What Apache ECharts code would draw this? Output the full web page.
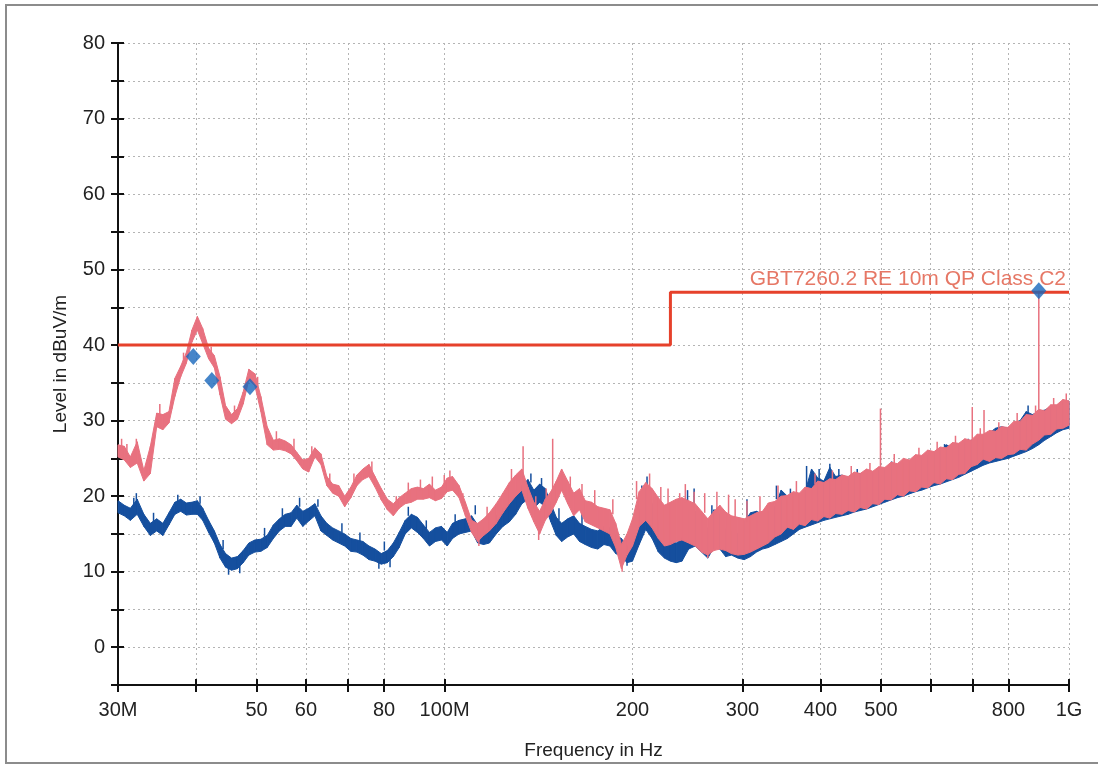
<!DOCTYPE html>
<html>
<head>
<meta charset="utf-8">
<title>Radiated emission scan</title>
<script src="https://cdn.jsdelivr.net/npm/echarts@6/dist/echarts.min.js"></script>
<style>
  html, body { margin: 0; padding: 0; background: #ffffff; }
  #chart { width: 1098px; height: 765px; }
</style>
</head>
<body>
<div id="chart"></div>
<script>
// Scan frequencies (MHz) shared by both polarisation traces
const freqMHz = [
  30, 30.7, 31.4, 32.2, 33, 33.8, 34.6, 35.4, 36.2, 37,
  37.8, 38.6, 39.4, 40.2, 41, 41.9, 42.8, 43.7, 44.6, 45.6,
  46.6, 47.6, 48.6, 49.7, 50.8, 52, 53.2, 54.4, 55.6, 56.8,
  58, 59.3, 60.6, 62, 63.4, 64.8, 66.2, 67.7, 69.2, 70.8,
  72.4, 74, 75.7, 77.4, 79.2, 81, 82.8, 84.6, 86.5, 88.5,
  90.5, 92.5, 94.6, 96.7, 98.9, 101, 103, 105.5, 108, 110.5,
  113, 115.5, 118, 121, 124, 127, 130, 133, 136, 139,
  142, 145, 148, 151, 154, 157.5, 161, 164.5, 168, 172,
  176, 180, 184, 188, 192, 196, 200, 205, 210, 215,
  220, 225, 230, 235, 240, 246, 252, 258, 264, 270,
  276, 282, 288, 295, 302, 309, 316, 323, 330, 338,
  346, 354, 362, 370, 378, 387, 396, 405, 414, 423,
  433, 443, 453, 463, 474, 485, 496, 507, 519, 531,
  543, 555, 568, 581, 594, 608, 622, 636, 651, 666,
  681, 697, 713, 729, 746, 763, 780, 798, 816, 835,
  854, 874, 894, 914, 935, 956, 978, 1000
];

// Horizontal trace: lower / upper edge of the noise band (dBuV/m)
const horLow = [
  25.2, 24.8, 23.8, 24.4, 22.0, 23.0, 29.2, 28.8, 29.7, 33.2,
  35.8, 37.6, 40.4, 42.0, 40.2, 38.2, 37.0, 33.4, 30.2, 29.6,
  30.2, 32.2, 35.4, 34.6, 31.2, 26.8, 26.1, 26.2, 26.0, 25.6,
  24.7, 23.6, 23.2, 25.2, 24.2, 21.4, 20.4, 20.0, 18.6, 19.8,
  21.4, 22.2, 22.6, 21.2, 19.5, 18.2, 17.4, 18.4, 19.0, 19.2,
  19.6, 19.6, 19.8, 19.4, 19.7, 20.6, 20.8, 19.8, 17.4, 15.2,
  14.0, 14.8, 15.4, 16.4, 17.8, 19.0, 20.0, 20.8, 18.4, 16.6,
  15.0, 16.8, 17.8, 19.2, 20.8, 19.0, 17.4, 18.2, 16.6, 16.2,
  15.8, 15.4, 15.0, 13.2, 10.4, 12.2, 13.4, 16.0, 16.8, 15.8,
  14.4, 13.4, 13.6, 14.0, 14.2, 13.8, 13.4, 12.6, 12.2, 12.8,
  13.0, 12.8, 12.4, 12.2, 12.3, 12.6, 13.0, 13.4, 13.8, 14.6,
  15.0, 15.9, 15.6, 16.3, 16.1, 16.9, 16.7, 17.3, 17.1, 17.7,
  17.6, 18.1, 17.9, 18.5, 18.3, 19.0, 18.9, 19.6, 19.5, 20.2,
  20.0, 20.7, 20.6, 21.2, 21.1, 21.8, 21.6, 22.3, 22.2, 22.9,
  23.0, 23.9, 24.2, 24.9, 24.6, 25.1, 25.0, 25.5, 25.6, 26.2,
  26.1, 26.9, 27.4, 28.1, 28.2, 28.9, 29.0, 29.4
];
const horHigh = [
  26.8, 26.6, 25.2, 27.2, 23.4, 26.6, 31.0, 30.8, 31.2, 35.6,
  37.2, 39.0, 42.0, 43.8, 42.2, 39.6, 38.6, 35.8, 32.0, 30.8,
  31.6, 33.8, 36.8, 36.2, 33.2, 29.2, 27.4, 27.6, 27.3, 26.8,
  25.8, 24.8, 25.0, 26.4, 25.6, 22.6, 21.6, 21.4, 20.0, 21.2,
  22.8, 23.6, 24.2, 22.6, 21.0, 19.6, 19.0, 19.8, 20.4, 21.0,
  21.2, 21.0, 21.6, 20.8, 21.2, 22.4, 22.6, 21.4, 19.2, 16.8,
  16.4, 17.0, 17.8, 19.0, 20.4, 21.8, 22.8, 23.6, 21.2, 19.2,
  18.0, 19.6, 20.6, 22.0, 23.6, 22.0, 20.4, 21.0, 19.4, 19.2,
  18.6, 18.4, 18.2, 16.4, 13.6, 15.0, 17.0, 20.6, 21.8, 21.0,
  19.8, 18.8, 19.2, 19.6, 19.8, 19.4, 19.0, 18.0, 17.0, 18.0,
  18.8, 17.9, 17.4, 17.2, 17.0, 17.4, 17.8, 18.0, 19.1, 19.3,
  20.0, 20.1, 20.6, 20.4, 21.2, 21.0, 22.0, 21.8, 22.3, 22.2,
  22.8, 22.6, 23.2, 23.0, 23.6, 23.3, 23.9, 23.8, 24.5, 24.3,
  25.0, 24.8, 25.5, 25.4, 26.1, 25.9, 26.5, 26.4, 27.1, 27.0,
  27.6, 27.4, 28.2, 28.2, 28.7, 28.6, 29.2, 29.1, 29.9, 29.9,
  30.8, 30.7, 31.5, 31.3, 32.1, 32.1, 32.8, 32.6
];

// Vertical trace: lower / upper edge of the noise band (dBuV/m)
const verLow = [
  17.8, 17.4, 16.8, 17.6, 16.0, 14.8, 15.4, 14.8, 16.2, 17.6,
  18.0, 17.5, 17.6, 17.6, 16.8, 15.2, 13.8, 11.8, 10.6, 10.2,
  10.4, 11.2, 12.2, 12.6, 12.7, 13.2, 14.4, 15.4, 16.0, 16.0,
  17.1, 16.0, 16.7, 17.4, 15.4, 14.8, 14.2, 13.8, 13.4, 12.7,
  12.6, 12.2, 11.6, 11.4, 11.0, 11.2, 12.0, 13.2, 15.0, 15.8,
  15.2, 14.4, 13.4, 14.0, 14.2, 13.4, 14.4, 15.0, 15.2, 15.4,
  13.8, 13.6, 13.8, 15.0, 16.0, 16.6, 17.6, 19.0, 19.6, 18.4,
  19.2, 18.6, 16.6, 14.8, 14.0, 14.6, 15.0, 14.0, 13.6, 13.2,
  13.0, 13.6, 13.4, 12.4, 12.0, 11.2, 11.4, 13.6, 15.6, 14.4,
  12.6, 11.8, 11.4, 11.2, 11.4, 13.0, 13.4, 12.6, 11.8, 13.2,
  13.0, 12.0, 12.2, 11.8, 11.6, 12.0, 12.6, 13.0, 13.2, 13.6,
  14.0, 14.4, 15.0, 15.6, 15.9, 16.2, 16.5, 16.8, 17.0, 17.2,
  17.4, 17.6, 17.9, 18.1, 18.3, 18.6, 18.9, 19.2, 19.5, 19.8,
  20.0, 20.3, 20.6, 20.8, 21.1, 21.4, 21.6, 21.9, 22.2, 22.5,
  22.9, 23.3, 23.7, 24.1, 24.4, 24.6, 24.8, 25.0, 25.3, 25.6,
  25.9, 26.3, 26.8, 27.4, 27.9, 28.4, 28.8, 29.0
];
const verHigh = [
  19.4, 18.8, 18.4, 19.6, 17.6, 16.4, 17.0, 16.4, 17.8, 19.2,
  19.6, 19.1, 19.2, 19.4, 18.4, 16.8, 15.4, 13.6, 12.4, 11.8,
  12.0, 12.8, 13.8, 14.2, 14.3, 14.8, 16.2, 17.0, 17.6, 17.8,
  18.8, 18.0, 18.4, 19.0, 17.4, 16.4, 15.8, 15.4, 15.0, 14.4,
  14.2, 14.0, 13.4, 13.0, 12.4, 12.8, 13.8, 15.2, 16.8, 17.6,
  17.2, 16.2, 15.2, 15.8, 16.0, 15.2, 16.4, 16.8, 17.0, 17.4,
  16.2, 16.0, 16.2, 17.4, 18.4, 19.0, 20.0, 21.4, 22.2, 20.8,
  21.6, 21.0, 19.0, 17.2, 16.4, 17.0, 17.4, 16.4, 16.0, 15.6,
  15.4, 16.0, 15.8, 14.8, 14.4, 13.4, 13.6, 17.8, 21.0, 19.0,
  16.6, 15.0, 14.0, 13.8, 14.4, 18.2, 18.0, 17.4, 15.6, 18.2,
  17.6, 15.4, 15.4, 15.0, 16.6, 17.8, 18.0, 17.6, 18.0, 18.6,
  20.8, 20.0, 19.8, 20.2, 20.6, 23.6, 22.4, 22.0, 23.8, 22.6,
  22.8, 22.4, 22.8, 23.0, 23.0, 23.2, 23.4, 23.6, 24.2, 24.0,
  24.4, 24.6, 25.0, 25.2, 25.4, 25.8, 26.0, 26.8, 26.4, 26.8,
  27.2, 27.4, 27.6, 28.0, 28.4, 29.0, 29.2, 29.0, 29.4, 30.0,
  31.2, 30.8, 31.2, 31.4, 31.8, 32.0, 32.4, 32.6
];

// Narrow-band spikes and noise peaks: frequency (MHz), foot and tip level (dBuV/m)
const horSpikeFreq = [
  32.1, 35.0, 102, 133.6, 149, 238, 251, 305, 499, 700, 731, 894.6,
  30.4, 31.0, 33.4, 36.6, 38.2, 42.3, 46.1, 50.2, 53.8, 57.4,
  61.3, 65.5, 71.6, 76.5, 83.7, 87.5, 91.5, 95.6, 99.9, 107,
  117, 128, 140, 145.5, 159, 166, 174, 186, 203, 213,
  222, 228, 243, 261, 273, 285, 292, 320, 342, 366,
  392, 418, 448, 480, 525, 575, 615, 658, 721, 772,
  826, 884, 945, 990, 192.5, 113.5, 141.5, 264
];
const horSpikeBase = [
  26.0, 30.6, 21.8, 22.5, 19.5, 18.8, 18.6, 16.5, 23.5, 27.4, 28.2, 31.0,
  26.4, 25.6, 22.8, 31.6, 37.6, 38.6, 30.6, 34.6, 27.2, 26.2,
  25.2, 21.6, 21.6, 23.2, 18.6, 20.4, 20.8, 20.8, 21.2, 19.0,
  17.0, 21.8, 18.0, 18.8, 20.6, 19.6, 18.8, 17.6, 19.6, 20.8,
  19.2, 18.8, 19.2, 17.8, 17.8, 17.6, 17.2, 17.8, 19.4, 20.4,
  21.6, 22.0, 22.6, 23.2, 24.2, 25.2, 26.0, 26.8, 27.8, 28.6,
  29.6, 31.0, 31.8, 32.4, 11.0, 14.6, 15.4, 12.8
];
const horSpikeTop = [
  27.6, 32.2, 23.4, 26.6, 27.6, 20.4, 20.6, 19.4, 31.6, 31.8, 31.4, 47.2,
  27.6, 26.9, 24.0, 33.0, 39.0, 39.8, 32.0, 35.8, 28.6, 27.6,
  26.6, 23.0, 23.0, 24.6, 20.0, 21.8, 22.2, 22.6, 22.8, 20.4,
  18.6, 23.6, 20.0, 21.0, 22.6, 21.6, 20.8, 19.6, 22.0, 23.0,
  21.2, 21.0, 21.6, 20.4, 20.6, 20.2, 19.6, 20.0, 21.4, 22.0,
  23.0, 23.4, 24.0, 24.4, 25.6, 26.4, 27.2, 28.0, 29.0, 29.8,
  31.0, 32.0, 33.0, 33.6, 10.0, 13.4, 14.2, 11.8
];
const verSpikeFreq = [
  32.1, 211, 245, 251, 305, 380, 414, 520, 632, 690, 860,
  31.8, 34.2, 37.4, 40.6, 44.2, 51.5, 55.0, 58.6, 62.7, 68.5,
  73.2, 80.1, 87.5, 93.5, 104, 112, 131, 137.5, 143, 152.5,
  166, 178, 186, 207, 227, 268, 298, 340, 358, 398,
  428, 458, 45.1, 47.0, 78.5, 81.8, 196
];
const verSpikeBase = [
  19.4, 20.0, 17.0, 17.0, 16.0, 19.5, 21.0, 22.0, 25.0, 26.0, 29.5,
  18.6, 16.6, 19.2, 19.0, 13.0, 14.6, 17.0, 18.6, 18.6, 15.2,
  14.0, 12.8, 17.4, 15.6, 16.2, 17.6, 19.6, 21.8, 20.8, 16.8,
  16.0, 15.2, 14.6, 19.4, 14.2, 16.6, 14.4, 19.6, 19.8, 22.0,
  22.2, 22.4, 10.6, 10.8, 11.4, 11.6, 11.6
];
const verSpikeTop = [
  20.4, 22.6, 20.8, 21.0, 19.6, 24.0, 24.3, 24.6, 26.9, 27.6, 32.0,
  19.8, 17.8, 20.2, 20.0, 14.2, 15.8, 18.4, 19.8, 19.6, 16.4,
  15.2, 14.0, 18.6, 16.8, 17.6, 18.8, 21.0, 23.0, 22.4, 18.4,
  17.8, 16.8, 16.6, 21.4, 16.4, 18.8, 17.0, 21.4, 21.0, 23.6,
  23.6, 23.6, 9.6, 9.8, 10.4, 10.6, 10.8
];

// Quasi-peak final measurements
const qpFreqMHz = [39.6, 42.4, 48.8, 894.6];
const qpLevel = [38.5, 35.3, 34.5, 47.2];

// Limit line GBT7260.2 RE 10m QP Class C2
const limitFreqMHz = [30, 230, 230, 1000];
const limitLevel = [40, 40, 47, 47];
const limitName = 'GBT7260.2 RE 10m QP Class C2';

// Axis ticks and labels
const xTickFreqs = [30, 40, 50, 60, 70, 80, 100, 200, 300, 400, 500, 600, 700, 800, 1000];
const xLabelFreqs = [30, 50, 60, 80, 100, 200, 300, 400, 500, 800, 1000];
const xLabelTexts = ['30M', '50', '60', '80', '100M', '200', '300', '400', '500', '800', '1G'];
const yLabelValues = [0, 10, 20, 30, 40, 50, 60, 70, 80];

const PINK = '#e8717f';
const BLUE = '#154f9e';
const RED = '#e6412b';
const FONT = '"Liberation Sans", Arial, sans-serif';

const lg = Math.log10;

function bandSeries(name, lo, hi, color, z) {
  const n = Math.min(freqMHz.length, lo.length, hi.length);
  const data = [];
  for (let i = 0; i < n; i++) data.push([lg(freqMHz[i]), lo[i], hi[i]]);
  return {
    type: 'custom', name: name, z: z, silent: true, animation: false,
    data: data,
    encode: { x: 0, y: [1, 2] },
    renderItem: function (params, api) {
      const i = params.dataIndex;
      if (i >= data.length - 1) return null;
      const nx = data[i + 1];
      const a = api.coord([api.value(0), api.value(1)]);
      const b = api.coord([api.value(0), api.value(2)]);
      const c = api.coord([nx[0], nx[2]]);
      const d = api.coord([nx[0], nx[1]]);
      return {
        type: 'polygon',
        shape: { points: [a, b, c, d] },
        style: { fill: color, stroke: color, lineWidth: 1 }
      };
    }
  };
}

function spikeSeries(name, fr, base, top, color, z) {
  const n = Math.min(fr.length, base.length, top.length);
  const data = [];
  for (let i = 0; i < n; i++) data.push([lg(fr[i]), base[i], top[i]]);
  return {
    type: 'custom', name: name, z: z, silent: true, animation: false,
    data: data,
    encode: { x: 0, y: [1, 2] },
    renderItem: function (params, api) {
      const p0 = api.coord([api.value(0), api.value(1)]);
      const p1 = api.coord([api.value(0), api.value(2)]);
      return {
        type: 'line',
        shape: { x1: p0[0], y1: p0[1], x2: p1[0], y2: p1[1] },
        style: { stroke: color, lineWidth: 1.5 }
      };
    }
  };
}

const xMin = lg(30), xMax = lg(1000);
const tickVals = xTickFreqs.map(lg);
const labelVals = xLabelFreqs.map(lg);

function xLabelFmt(v) {
  for (let i = 0; i < xLabelFreqs.length; i++) {
    if (Math.abs(lg(xLabelFreqs[i]) - v) < 1e-6) return xLabelTexts[i];
  }
  return '';
}

const axisBlack = { color: '#111', width: 2 };
const gridDots = { color: '#b4b4b4', width: 1, type: [2, 3] };
const lastLimit = limitFreqMHz.length - 1;

const option = {
  backgroundColor: '#ffffff',
  animation: false,
  grid: { left: 118, right: 29, top: 43, bottom: 79, containLabel: false },
  graphic: [{
    type: 'rect', silent: true, z: -10,
    shape: { x: 6, y: 5, width: 1100, height: 758 },
    style: { fill: 'none', stroke: '#8c8c8c', lineWidth: 2 }
  }],
  xAxis: [{
    type: 'value', min: xMin, max: xMax, position: 'bottom',
    name: 'Frequency in Hz', nameLocation: 'middle', nameGap: 56,
    nameTextStyle: { fontSize: 19, color: '#222', fontFamily: FONT },
    axisLine: { show: true, onZero: false, lineStyle: axisBlack },
    axisTick: { show: true, customValues: tickVals, length: 7, lineStyle: axisBlack },
    axisLabel: {
      show: true, customValues: labelVals, formatter: xLabelFmt,
      margin: 15, fontSize: 20, color: '#222', fontFamily: FONT
    },
    splitLine: { show: true, lineStyle: gridDots }
  }, {
    type: 'value', min: xMin, max: xMax, position: 'bottom',
    axisLine: { show: false, onZero: false },
    axisTick: { show: true, inside: true, customValues: tickVals, length: 6, lineStyle: axisBlack },
    axisLabel: { show: false },
    splitLine: { show: false }
  }],
  yAxis: [{
    type: 'value', min: -5, max: 80, interval: 5, position: 'left',
    name: 'Level in dBuV/m', nameLocation: 'middle', nameGap: 48,
    nameTextStyle: { fontSize: 19, color: '#222', fontFamily: FONT },
    axisLine: { show: true, onZero: false, lineStyle: axisBlack },
    axisTick: { show: true, length: 7, lineStyle: axisBlack },
    axisLabel: {
      margin: 13, fontSize: 20, color: '#222', fontFamily: FONT,
      formatter: v => (yLabelValues.indexOf(v) >= 0 ? String(v) : '')
    },
    splitLine: { show: true, lineStyle: gridDots }
  }, {
    type: 'value', min: -5, max: 80, interval: 5, position: 'left',
    axisLine: { show: false, onZero: false },
    axisTick: { show: true, inside: true, length: 6, lineStyle: axisBlack },
    axisLabel: { show: false },
    splitLine: { show: false }
  }],
  series: [
    bandSeries('Vertical', verLow, verHigh, BLUE, 2),
    spikeSeries('Vertical spikes', verSpikeFreq, verSpikeBase, verSpikeTop, BLUE, 2),
    bandSeries('Horizontal', horLow, horHigh, PINK, 3),
    spikeSeries('Horizontal spikes', horSpikeFreq, horSpikeBase, horSpikeTop, PINK, 3),
    {
      type: 'line', name: limitName, z: 4,
      data: limitFreqMHz.map((f, i) => [lg(f), limitLevel[i]]),
      symbol: 'none', lineStyle: { color: RED, width: 3 }, silent: true, animation: false
    },
    {
      // caption of the limit line, anchored at its right end
      type: 'scatter', name: 'limit caption', z: 4, silent: true, animation: false,
      data: [[lg(limitFreqMHz[lastLimit]), limitLevel[lastLimit]]],
      symbolSize: 1, itemStyle: { color: 'rgba(0,0,0,0)' },
      label: {
        show: true, position: 'top', align: 'right', distance: 2, offset: [-3, 0],
        formatter: limitName, color: '#e0553f', fontSize: 21, fontFamily: FONT
      }
    },
    {
      type: 'scatter', name: 'QP', z: 5,
      data: qpFreqMHz.map((f, i) => [lg(f), qpLevel[i]]),
      symbol: 'diamond', symbolSize: [15, 17],
      itemStyle: { color: '#1866bb' }, silent: true, animation: false
    }
  ]
};

const chart = echarts.init(document.getElementById('chart'), null, { renderer: 'canvas' });
chart.setOption(option);
</script>
</body>
</html>
